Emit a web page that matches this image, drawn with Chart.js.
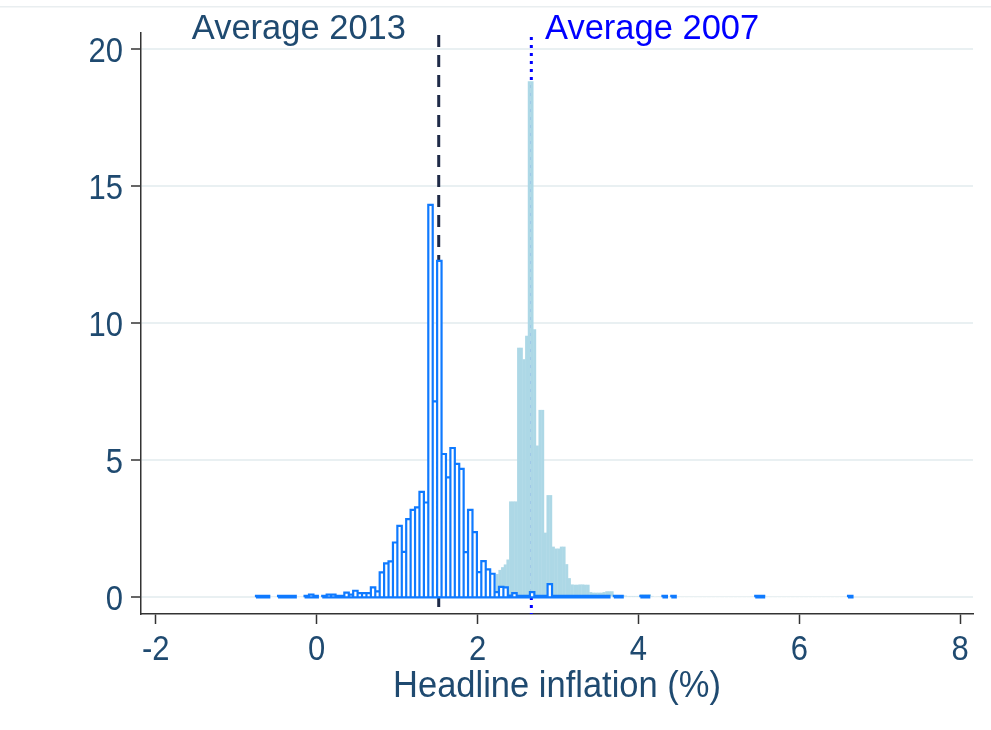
<!DOCTYPE html>
<html><head><meta charset="utf-8">
<script src="https://cdn.jsdelivr.net/npm/chart.js@4"></script>
<style>html,body{margin:0;padding:0;background:#fff}#wrap{width:991px;height:730px}</style>
</head><body><div id="wrap"><canvas id="c" width="991" height="730"></canvas></div>
<script>
// ---- data ----
const xTickValues = [-2, 0, 2, 4, 6, 8];
const yTickValues = [0, 5, 10, 15, 20];
const xTitle = 'Headline inflation (%)';
const annotationTexts = ['Average 2013', 'Average 2007'];

// 2013 histogram (percent), bins of equal width from bin2013Start
const bin2013Start = -0.7535;
const bin2013Width = 0.05492;
const pct2013 = [
  0.05,0.05,0.05,0,0,0.05,0.05,0.05,0.05,0,
  0,0.05,0.1,0.05,0,0.05,0.1,0.1,0.05,0.05,
  0.17,0.1,0.24,0.15,0.15,0.15,0.36,0.22,0.91,1.24,
  1.31,2.0,2.61,1.66,2.85,3.19,3.28,3.85,3.46,14.32,
  7.15,12.28,5.23,4.38,5.45,4.87,4.69,1.65,3.19,2.38,
  0.92,1.32,1.02,0.86,0.19,0.38,0.36,0.06,0.15,0.05,
  0.05,0.05,0.19,0.05,0.05,0.05,0.48,0.05,0.05,0.05,
  0.05,0.05,0.05,0.05,0.05,0.05,0.05,0.05,0.05,0.05,
  0,0.05,0.05,0,0,0,0,0.05,0.05,0,
  0,0,0.05,0,0.05,0,0,0,0,0,
  0,0,0,0,0,0,0,0,0,0,
  0,0,0,0.05,0.05,0,0,0,0,0,
  0,0,0,0,0,0,0,0,0,0,
  0,0,0,0,0.05
];

// 2007 histogram (percent)
const bin2007Start = 2.229;
const bin2007Width = 0.0332;
const pct2007 = [
  0.85,1.0,1.1,1.2,1.38,3.5,3.5,3.5,9.11,9.11,
  8.69,9.55,18.83,18.83,9.78,5.54,6.84,6.84,2.36,3.73,
  3.73,1.85,1.78,1.78,1.85,1.85,1.21,0.7,0.47,0.46,
  0.46,0.47,0.47,0.46,0.46,0.19,0.17,0.17,0.17,0.17,
  0.19,0.22,0.22,0.22,0.07,0.07,0.07,0.07,0.06,0.05,
  0.05,0.05,0.05,0.05,0.11,0.11,0.11,0.11,0.05,0,
  0.04,0.04,0.04,0,0,0,0,0,0,0,
  0,0,0,0,0,0,0,0,0,0,
  0,0,0,0,0,0,0,0,0,0,
  0,0,0,0,0,0,0,0,0,0.06,
  0.06
];

const avg2013 = 1.518;
const avg2007 = 2.669;

// ---- styling ----
const FONT = '"Liberation Sans", Arial, Helvetica, sans-serif';
const TEXT = '#1f4a70';
const AXIS = '#333333';

function centers(start, width, vals) {
  return vals.map((v, i) => ({ x: start + (i + 0.5) * width, y: v }));
}
function outline(start, width, vals) {
  const pts = [];
  let i = 0;
  while (i < vals.length) {
    if (!vals[i]) { i++; continue; }
    const x0 = start + i * width;
    pts.push({ x: x0, y: 0 });
    while (i < vals.length && vals[i]) {
      const xl = start + i * width, xr = xl + width;
      pts.push({ x: xl, y: vals[i] }, { x: xr, y: vals[i] }, { x: xr, y: 0 });
      i++;
    }
    pts.push({ x: x0, y: 0 });
    pts.push({ x: x0, y: null });
  }
  return pts;
}

function drawText(ctx, text, x, y, size, sy, align, color) {
  ctx.save();
  ctx.font = size + 'px ' + FONT;
  ctx.fillStyle = color;
  ctx.textAlign = align;
  ctx.textBaseline = 'alphabetic';
  ctx.translate(x, y);
  ctx.scale(1, sy);
  ctx.fillText(text, 0, 0);
  ctx.restore();
}

const overlay = {
  id: 'overlay',
  beforeDraw(chart) {
    const { ctx } = chart;
    ctx.save();
    ctx.fillStyle = '#ffffff';
    ctx.fillRect(0, 0, chart.width, chart.height);
    ctx.fillStyle = '#e9eef0';
    ctx.fillRect(0, 6, chart.width, 1.5);
    ctx.restore();
  },
  beforeDatasetsDraw(chart) {
    const { ctx, scales: { x, y }, chartArea } = chart;
    ctx.save();
    const bottom = chartArea.bottom;
    let px = x.getPixelForValue(avg2013);
    ctx.strokeStyle = '#1e2a47';
    ctx.lineWidth = 3;
    ctx.setLineDash([12, 8]);
    ctx.beginPath(); ctx.moveTo(px, y.getPixelForValue(20.52)); ctx.lineTo(px, bottom); ctx.stroke();
    px = x.getPixelForValue(avg2007);
    ctx.strokeStyle = '#0000ff';
    ctx.lineWidth = 3;
    ctx.setLineDash([3, 5]);
    ctx.beginPath(); ctx.moveTo(px, y.getPixelForValue(20.45)); ctx.lineTo(px, bottom); ctx.stroke();
    ctx.restore();
  },
  afterDraw(chart) {
    const { ctx, scales: { x, y }, chartArea } = chart;
    // tick labels
    const TICK = 31, TICK_SY = 1.12;
    const capT = TICK * 0.716 * TICK_SY;
    xTickValues.forEach(v => drawText(ctx, String(v), x.getPixelForValue(v), 648 + capT / 2, TICK, TICK_SY, 'center', TEXT));
    yTickValues.forEach(v => drawText(ctx, String(v), 123, y.getPixelForValue(v) + capT / 2, TICK, TICK_SY, 'right', TEXT));
    // axis title
    const TT = 34.5, TT_SY = 1.06;
    drawText(ctx, xTitle, (chartArea.left + chartArea.right) / 2, 684 + TT * 0.716 * TT_SY / 2, TT, TT_SY, 'center', TEXT);
    // annotations
    const by = y.getPixelForValue(20.365);
    drawText(ctx, annotationTexts[0], x.getPixelForValue(1.111), by, 34.5, 1, 'right', TEXT);
    drawText(ctx, annotationTexts[1], x.getPixelForValue(2.839), by, 34.5, 1, 'left', '#0000ff');
  }
};

const XMIN = -2.1827, XMAX = 8.159;

new Chart(document.getElementById('c'), {
  type: 'bar',
  data: {
    datasets: [
      {
        type: 'line', label: '2013 outline', order: 1, xAxisID: 'x', yAxisID: 'y',
        data: outline(bin2013Start, bin2013Width, pct2013),
        borderColor: '#0f7aff', borderWidth: 2.2, pointRadius: 0, fill: false,
        tension: 0, spanGaps: false, borderJoinStyle: 'miter', borderCapStyle: 'butt'
      },
      {
        label: '2013 fill', order: 2, xAxisID: 'x', yAxisID: 'y', grouped: false,
        data: centers(bin2013Start, bin2013Width, pct2013),
        backgroundColor: '#ffffff', borderWidth: 0,
        barPercentage: 1, categoryPercentage: 1
      },
      {
        label: '2007', order: 3, xAxisID: 'x2', yAxisID: 'y', grouped: false,
        data: centers(bin2007Start, bin2007Width, pct2007),
        backgroundColor: '#add8e6', borderWidth: 0,
        barPercentage: 1.15, categoryPercentage: 1
      }
    ]
  },
  options: {
    responsive: false, animation: false, devicePixelRatio: 1,
    layout: { padding: { left: 0, top: 33, right: 18, bottom: 0 } },
    plugins: { legend: { display: false }, tooltip: { enabled: false } },
    scales: {
      x: {
        type: 'linear', position: 'bottom', min: XMIN, max: XMAX, offset: false,
        afterBuildTicks: s => { s.ticks = xTickValues.map(v => ({ value: v })); },
        afterFit: s => { s.height = 116; },
        grid: { offset: false, drawOnChartArea: false, drawTicks: true, tickLength: 10, tickColor: AXIS, tickWidth: 1.5 },
        border: { display: true, color: AXIS, width: 1.5 },
        ticks: { display: false },
        title: { display: false }
      },
      x2: { type: 'linear', display: false, min: XMIN, max: XMAX, offset: false, grid: { offset: false } },
      y: {
        type: 'linear', position: 'left', min: -0.609, max: 20.595,
        afterBuildTicks: s => { s.ticks = yTickValues.map(v => ({ value: v })); },
        afterFit: s => { s.width = 141; },
        grid: { color: '#e9f0f2', lineWidth: 2, drawTicks: true, tickLength: 10, tickColor: AXIS, tickWidth: 1.5 },
        border: { display: true, color: AXIS, width: 1.5 },
        ticks: { display: false }
      }
    }
  },
  plugins: [overlay]
});
</script>
</body></html>
